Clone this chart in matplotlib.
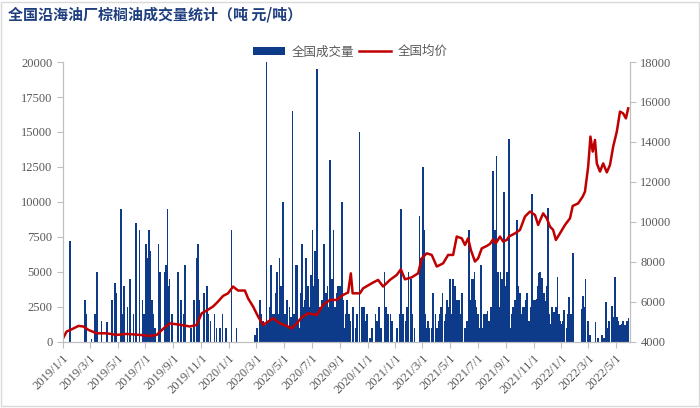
import matplotlib.pyplot as plt
import matplotlib.patches as mpatches
import pandas as pd

plt.rcParams['font.family'] = ['Noto Sans CJK SC', 'DejaVu Sans']

# daily volume (tons)
vol_dates = [
    '2019-01-16', '2019-02-19', '2019-02-22', '2019-03-05', '2019-03-13', '2019-03-17', '2019-03-27',
    '2019-04-08', '2019-04-19', '2019-04-25', '2019-04-29', '2019-05-08', '2019-05-13', '2019-05-15',
    '2019-05-23', '2019-05-28', '2019-06-05', '2019-06-10', '2019-06-18', '2019-06-25', '2019-06-28',
    '2019-07-03', '2019-07-05', '2019-07-09', '2019-07-11', '2019-07-16', '2019-07-19', '2019-07-22',
    '2019-07-30', '2019-08-02', '2019-08-13', '2019-08-15', '2019-08-19', '2019-08-20', '2019-08-23',
    '2019-08-29', '2019-09-11', '2019-09-18', '2019-09-24', '2019-09-26', '2019-10-10', '2019-10-16',
    '2019-10-23', '2019-10-25', '2019-10-27', '2019-11-07', '2019-11-14', '2019-11-17', '2019-11-21',
    '2019-11-30', '2019-12-05', '2019-12-12', '2019-12-18', '2019-12-25', '2020-01-07', '2020-01-18',
    '2020-02-27', '2020-03-03', '2020-03-09', '2020-03-13', '2020-03-16', '2020-03-24', '2020-03-27',
    '2020-04-02', '2020-04-07', '2020-04-11', '2020-04-15', '2020-04-18', '2020-04-21', '2020-04-24',
    '2020-04-29', '2020-05-03', '2020-05-08', '2020-05-10', '2020-05-16', '2020-05-20', '2020-05-26',
    '2020-05-29', '2020-06-04', '2020-06-09', '2020-06-18', '2020-06-23', '2020-06-29', '2020-07-03',
    '2020-07-08', '2020-07-12', '2020-07-16', '2020-07-21', '2020-07-28', '2020-08-05', '2020-08-10',
    '2020-08-15', '2020-08-18', '2020-08-25', '2020-08-28', '2020-09-01', '2020-09-05', '2020-09-08',
    '2020-09-12', '2020-09-17', '2020-09-21', '2020-09-30', '2020-10-14', '2020-10-20', '2020-10-24',
    '2020-10-30', '2020-11-06', '2020-11-18', '2020-11-26', '2020-12-08', '2020-12-16', '2020-12-21',
    '2020-12-25', '2021-01-10', '2021-01-14', '2021-01-18', '2021-01-23', '2021-01-30', '2021-02-04',
    '2021-02-08', '2021-02-23', '2021-02-26', '2021-03-03', '2021-03-05', '2021-03-11', '2021-03-17',
    '2021-03-22', '2021-03-25', '2021-03-30', '2021-04-03', '2021-04-08', '2021-04-11', '2021-04-15',
    '2021-04-19', '2021-04-24', '2021-05-01', '2021-05-08', '2021-05-12', '2021-05-16', '2021-05-21',
    '2021-05-28', '2021-06-03', '2021-06-12', '2021-06-17', '2021-06-21', '2021-06-24', '2021-06-25',
    '2021-06-30', '2021-07-05', '2021-07-08', '2021-07-12', '2021-07-15', '2021-07-19', '2021-07-23',
    '2021-07-26', '2021-07-30', '2021-08-02', '2021-08-04', '2021-08-08', '2021-08-11', '2021-08-15',
    '2021-08-20', '2021-08-23', '2021-08-26', '2021-08-28', '2021-09-01', '2021-09-04', '2021-09-08',
    '2021-09-11', '2021-09-17', '2021-09-25', '2021-09-28', '2021-10-02', '2021-10-09', '2021-10-15',
    '2021-10-18', '2021-10-22', '2021-10-28', '2021-10-31', '2021-11-04', '2021-11-08', '2021-11-11',
    '2021-11-13', '2021-11-15', '2021-11-17', '2021-11-20', '2021-11-24', '2021-11-27', '2021-11-30',
    '2021-12-03', '2021-12-09', '2021-12-12', '2021-12-16', '2021-12-20', '2021-12-24', '2021-12-29',
    '2022-01-02', '2022-01-07', '2022-01-12', '2022-01-18', '2022-01-22', '2022-01-26', '2022-02-15',
    '2022-02-18', '2022-02-23', '2022-03-01', '2022-03-05', '2022-03-17', '2022-03-23', '2022-03-31',
    '2022-04-05', '2022-04-09', '2022-04-16', '2022-04-22', '2022-04-25', '2022-04-29', '2022-05-03',
    '2022-05-06', '2022-05-13', '2022-05-17', '2022-05-21', '2022-05-25', '2022-05-29',
]
vol_values = [
    7200, 3000, 2000, 200, 2000, 5000, 1500,
    1400, 3000, 4200, 3500, 9500, 2000, 4000,
    2500, 4500, 2000, 8500, 8000, 3000, 2000,
    7000, 6000, 8000, 6500, 3000, 2000, 1000,
    7000, 5000, 5000, 5500, 9500, 4000, 4500,
    2000, 5000, 3000, 2000, 5500, 1000, 3000,
    6000, 7000, 3000, 3500, 4000, 2000, 1500,
    2000, 1000, 1000, 2000, 1000, 8000, 1000,
    500, 1000, 3000, 2000, 1500, 20000, 1500,
    5500, 2000, 2000, 5000, 2000, 6000, 4000,
    10000, 2000, 3000, 1000, 1800, 16500, 5500,
    5500, 1000, 7000, 6000, 4000, 4800, 8000,
    6500, 19500, 4500, 1500, 7000, 4000, 13000,
    4500, 8000, 3500, 4000, 4000, 10000, 3000,
    1000, 3000, 2000, 2500, 15000, 2500, 2500,
    2000, 300, 2000, 2500, 5000, 2000, 2000,
    1500, 2000, 9500, 2000, 1500, 5000, 4500,
    2000, 9000, 6000, 12500, 8000, 1000, 1000,
    1000, 3500, 2000, 1000, 2000, 2500, 3500,
    1500, 3000, 4500, 4500, 4000, 3000, 3000,
    3500, 1000, 8000, 4500, 4500, 5000, 3000,
    1500, 1000, 5500, 1000, 2000, 2000, 2200,
    1500, 2500, 2000, 12200, 8000, 13300, 5000,
    5000, 4500, 3000, 10700, 4000, 5000, 14500,
    1000, 2500, 8700, 4000, 3500, 2500, 3000,
    3500, 1500, 10600, 3000, 3000, 3100, 4000,
    4900, 5000, 2000, 4600, 3500, 2900, 4000,
    9600, 1300, 2500, 2150, 2500, 4640, 1500,
    1300, 2300, 1000, 3200, 2000, 6380, 2380,
    3300, 4480, 1500, 500, 1400, 300, 500,
    300, 2860, 1500, 2600, 1800, 4640, 1800,
    1500, 1300, 1500, 1200, 1500, 1700,
]

# the many small daily lots that fill in the dense stretches
small_dates = [
    '2020-03-20', '2020-03-30', '2020-04-04', '2020-04-09', '2020-04-13', '2020-04-27', '2020-05-05',
    '2020-05-13', '2020-05-23', '2020-06-01', '2020-06-06', '2020-06-12', '2020-06-15', '2020-06-26',
    '2020-07-01', '2020-07-06', '2020-07-10', '2020-07-19', '2020-07-24', '2020-07-31', '2020-08-02',
    '2020-08-08', '2020-08-13', '2020-08-21', '2020-09-03', '2020-09-14', '2020-09-24', '2020-10-05',
    '2020-10-09', '2020-10-27', '2020-11-10', '2020-11-22', '2020-12-01', '2020-12-12', '2021-01-05',
    '2021-01-26', '2021-02-12', '2021-03-08', '2021-03-14', '2021-04-06', '2021-04-21', '2021-04-28',
    '2021-05-05', '2021-05-19', '2021-05-25', '2021-06-07', '2021-06-14', '2021-06-27', '2021-07-02',
    '2021-07-17', '2021-08-06', '2021-08-13', '2021-08-17', '2021-08-30', '2021-09-06', '2021-09-14',
    '2021-09-21', '2021-09-30', '2021-10-05', '2021-10-12', '2021-10-25', '2021-11-02', '2021-11-06',
    '2021-12-06', '2021-12-14', '2021-12-27', '2022-01-04', '2022-01-15', '2022-02-21', '2022-04-12',
    '2022-05-10',
]
small_values = [
    1200, 2500, 3000, 1500, 3500, 2500, 1500,
    2500, 2000, 1500, 3500, 2500, 3000, 2500,
    3500, 4000, 3000, 2500, 3000, 2000, 3500,
    2500, 3000, 2500, 2500, 2000, 1500, 1000,
    2000, 1500, 1000, 1500, 1000, 2500, 1000,
    2500, 1000, 2000, 1500, 1500, 2000, 2500,
    2000, 1500, 2000, 1500, 3000, 2500, 2000,
    1500, 4000, 3500, 2500, 3500, 3000, 2000,
    3000, 2500, 2000, 2500, 2500, 2000, 2500,
    2000, 1500, 2000, 1500, 2000, 2500, 1000,
    1200,
]

# average price (yuan/ton)
price_dates = [
    '2019-01-01', '2019-01-09', '2019-01-20', '2019-02-04', '2019-02-15', '2019-02-26', '2019-03-16',
    '2019-04-07', '2019-04-29', '2019-05-21', '2019-06-19', '2019-07-11', '2019-07-26', '2019-08-10',
    '2019-08-24', '2019-09-08', '2019-09-23', '2019-10-07', '2019-10-22', '2019-11-02', '2019-11-13',
    '2019-11-27', '2019-12-08', '2019-12-19', '2019-12-30', '2020-01-10', '2020-01-21', '2020-02-05',
    '2020-02-12', '2020-02-23', '2020-03-05', '2020-03-16', '2020-03-27', '2020-04-07', '2020-04-22',
    '2020-05-07', '2020-05-18', '2020-05-29', '2020-06-09', '2020-06-23', '2020-07-12', '2020-07-26',
    '2020-08-10', '2020-08-25', '2020-09-08', '2020-09-19', '2020-09-25', '2020-09-29', '2020-10-15',
    '2020-10-22', '2020-11-13', '2020-11-24', '2020-12-05', '2020-12-20', '2021-01-04', '2021-01-13',
    '2021-01-22', '2021-02-06', '2021-02-20', '2021-02-28', '2021-03-11', '2021-03-22', '2021-04-02',
    '2021-04-16', '2021-04-27', '2021-05-08', '2021-05-16', '2021-05-27', '2021-06-03', '2021-06-10',
    '2021-06-16', '2021-06-25', '2021-07-02', '2021-07-10', '2021-07-21', '2021-07-28', '2021-08-04',
    '2021-08-10', '2021-08-19', '2021-08-26', '2021-09-03', '2021-09-08', '2021-09-21', '2021-10-02',
    '2021-10-13', '2021-10-24', '2021-11-04', '2021-11-11', '2021-11-22', '2021-11-30', '2021-12-07',
    '2021-12-14', '2021-12-20', '2021-12-29', '2022-01-09', '2022-01-20', '2022-01-26', '2022-02-07',
    '2022-02-17', '2022-02-22', '2022-03-01', '2022-03-06', '2022-03-11', '2022-03-16', '2022-03-20',
    '2022-03-27', '2022-04-03', '2022-04-11', '2022-04-18', '2022-04-25', '2022-05-03', '2022-05-10',
    '2022-05-17', '2022-05-23', '2022-05-28',
]
price_values = [
    4180, 4520, 4630, 4800, 4770, 4600, 4430,
    4430, 4350, 4400, 4350, 4300, 4350, 4670,
    4930, 4880, 4830, 4770, 4850, 5430, 5570,
    5770, 6020, 6300, 6430, 6770, 6570, 6570,
    6180, 5770, 5270, 4850, 5020, 5180, 4930,
    4800, 4680, 4930, 5230, 5430, 5350, 5850,
    6100, 6100, 6350, 6470, 7430, 6430, 6430,
    6680, 6970, 7100, 6770, 7100, 7350, 7630,
    7130, 7230, 7430, 8180, 8430, 8350, 7770,
    7930, 8350, 8350, 9270, 9180, 8850, 9180,
    8600, 8020, 8180, 8680, 8800, 8900, 9130,
    8930, 9270, 9020, 9100, 9270, 9430, 9600,
    10270, 10520, 10350, 9850, 10430, 10180, 9770,
    9600, 9100, 9430, 9850, 10180, 10800, 10930,
    11270, 11520, 12770, 14270, 13520, 14100, 12930,
    12520, 12930, 12480, 12850, 13770, 14520, 15520,
    15430, 15180, 15680,
]

tick_dates = pd.date_range('2019-01-01', '2022-05-01', freq='2MS')
tick_labels = [f'{d.year}/{d.month}/{d.day}' for d in tick_dates]

grey = '#595959'
axis_col = '#bfbfbf'
serif = ['Liberation Serif', 'DejaVu Serif']
bar_col = '#0e3a8a'

fig = plt.figure(figsize=(7, 4.08), dpi=100)
fig.patches.append(mpatches.Rectangle((0.002, 0.004), 0.996, 0.992, transform=fig.transFigure,
                                      fill=False, edgecolor='#d9d9d9', lw=1))

ax = fig.add_axes([0.09, 0.162, 0.81, 0.686])
ax2 = ax.twinx()

ax.bar(pd.to_datetime(small_dates), small_values, width=3.5, color=bar_col, linewidth=0)
bars = ax.bar(pd.to_datetime(vol_dates), vol_values, width=3.5, color=bar_col, linewidth=0)
line, = ax2.plot(pd.to_datetime(price_dates), price_values, color='#c00000', lw=1.8)

ax.set_xlim(pd.Timestamp('2019-01-01'), pd.Timestamp('2022-06-01'))
ax.set_ylim(0, 20000)
ax.set_yticks(range(0, 20001, 2500))
ax2.set_ylim(4000, 18000)
ax2.set_yticks(range(4000, 18001, 2000))

ax.set_xticks(tick_dates)
ax.set_xticklabels(tick_labels, rotation=45, ha='right', rotation_mode='anchor')

for a in (ax, ax2):
    for s in a.spines.values():
        s.set_color(axis_col)
    a.spines['top'].set_visible(False)
    a.tick_params(colors=axis_col, labelcolor=grey, labelsize=9, length=4)
    for lab in a.get_xticklabels() + a.get_yticklabels():
        lab.set_family(serif)

fig.legend([bars, line], ['全国成交量', '全国均价'], loc='center', bbox_to_anchor=(0.5, 0.873),
           ncol=2, frameon=False, fontsize=9, labelcolor=grey, handlelength=2.6,
           handleheight=0.6, columnspacing=0.4, handletextpad=0.5)

fig.text(0.012, 0.965, '全国沿海油厂棕榈油成交量统计（吨 元/吨）', fontsize=10.8, fontweight='bold',
         color='#1f3f7f', va='center', ha='left')

fig.savefig('out.png', dpi=100)
